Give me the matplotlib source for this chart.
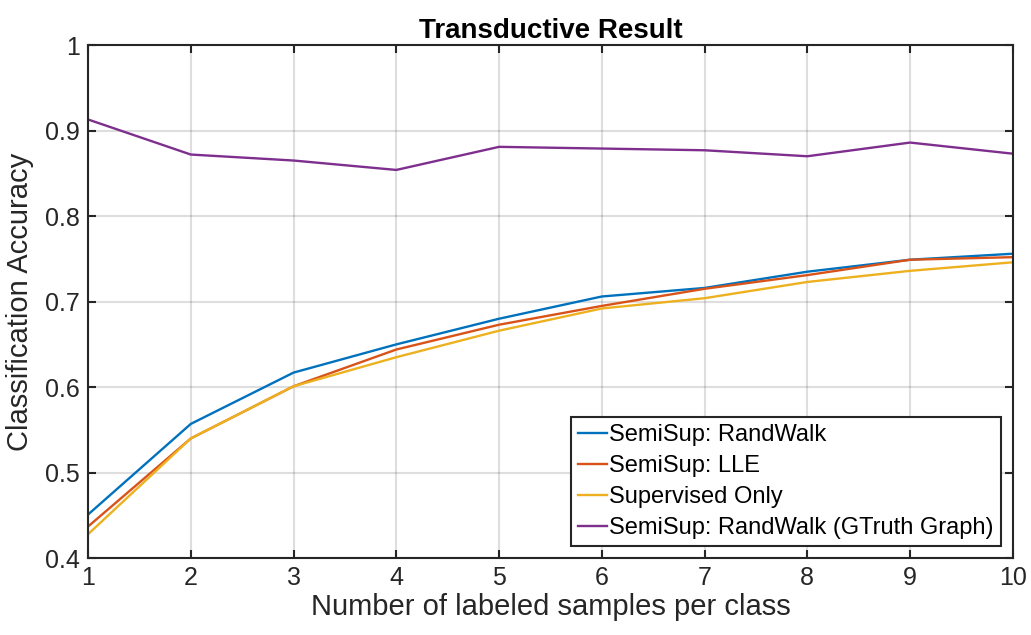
import matplotlib.pyplot as plt

plt.rcParams['font.family'] = ['Liberation Sans', 'DejaVu Sans']

labeled = [1, 2, 3, 4, 5, 6, 7, 8, 9, 10]
randwalk = [0.451, 0.557, 0.617, 0.650, 0.680, 0.706, 0.716, 0.735, 0.749, 0.756]
lle = [0.437, 0.540, 0.601, 0.644, 0.673, 0.695, 0.715, 0.731, 0.749, 0.752]
supervised = [0.428, 0.540, 0.601, 0.635, 0.666, 0.692, 0.704, 0.723, 0.736, 0.746]
gtruth = [0.913, 0.872, 0.865, 0.854, 0.881, 0.879, 0.877, 0.870, 0.886, 0.873]

fig = plt.figure(figsize=(10.31, 6.35), dpi=100)
ax = fig.add_axes([0.0854, 0.121, 0.897, 0.808])

lw = 1.7
ax.plot(labeled, randwalk, color='#0072BD', lw=lw, label='SemiSup: RandWalk')
ax.plot(labeled, lle, color='#D95319', lw=lw, label='SemiSup: LLE')
ax.plot(labeled, supervised, color='#EDB120', lw=lw, label='Supervised Only')
ax.plot(labeled, gtruth, color='#7E2F8E', lw=lw, label='SemiSup: RandWalk (GTruth Graph)')

ax.set_xlim(1, 10)
ax.set_ylim(0.4, 1)
ax.set_xticks(labeled)
ax.set_yticks([0.4, 0.5, 0.6, 0.7, 0.8, 0.9, 1.0])
ax.set_yticklabels(['0.4', '0.5', '0.6', '0.7', '0.8', '0.9', '1'])
ax.grid(True, color='#262626', alpha=0.15, lw=1.5)
ax.tick_params(direction='in', length=6, width=1.5, labelsize=18, colors='#262626',
               top=True, right=True, pad=6)
for s in ax.spines.values():
    s.set_linewidth(1.5)
    s.set_color('#262626')

ax.set_title('Transductive Result', fontsize=20, fontweight='bold', pad=5)
ax.set_xlabel('Number of labeled samples per class', fontsize=21, color='#262626', labelpad=2)
ax.set_ylabel('Classification Accuracy', fontsize=21, color='#262626', labelpad=8)

leg = ax.legend(loc='lower right', fontsize=17, fancybox=False, framealpha=1,
                edgecolor='#262626', borderaxespad=0.5, handlelength=1.25,
                handletextpad=0.1, borderpad=0.3, labelspacing=0.38)
leg.get_frame().set_linewidth(1.5)

fig.savefig('out.png', dpi=100)
